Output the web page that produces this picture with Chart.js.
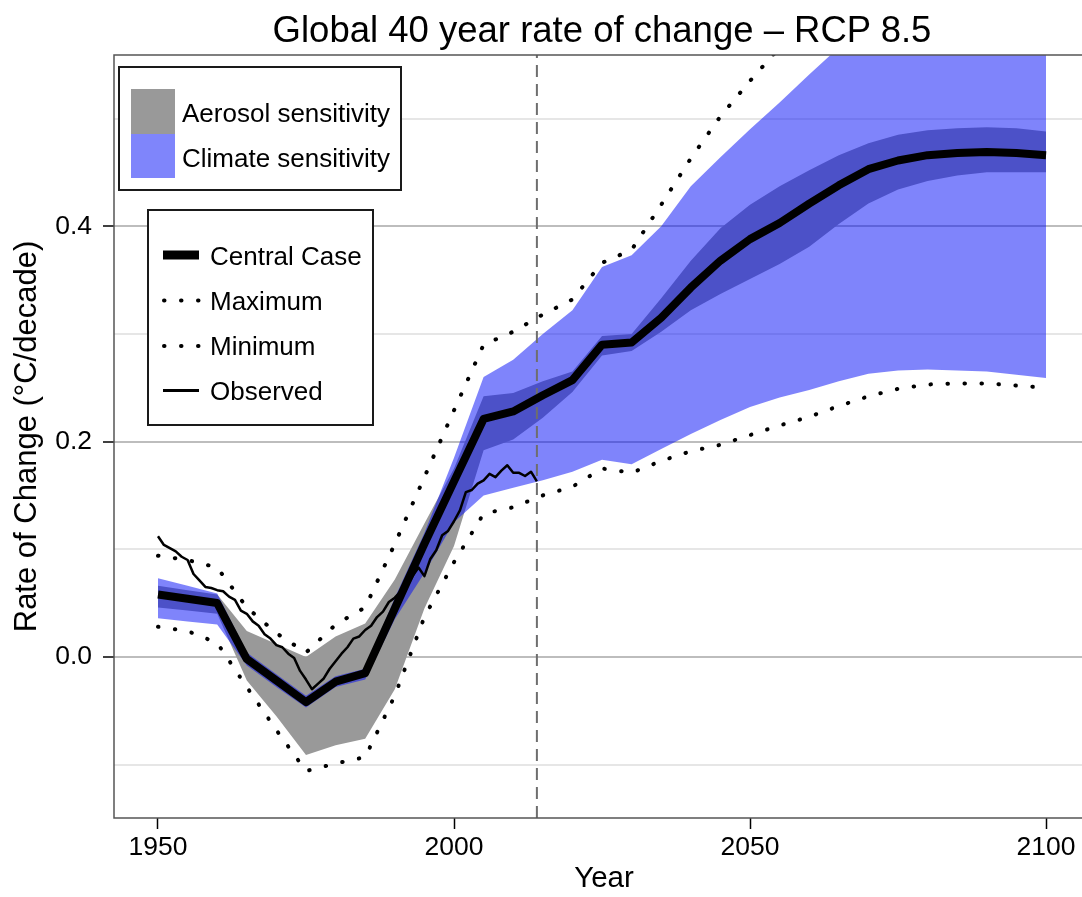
<!DOCTYPE html>
<html>
<head>
<meta charset="utf-8">
<script src="https://cdn.jsdelivr.net/npm/chart.js@4.4.0/dist/chart.umd.min.js"></script>
<style>
html,body{margin:0;padding:0;background:#fff;overflow:hidden;width:1082px;height:897px;}
#wrap{position:absolute;left:0;top:0;width:1094px;height:897px;}
.t{position:absolute;font-family:"Liberation Sans",Arial,Helvetica,sans-serif;color:#000;white-space:nowrap;line-height:1;}
#overlay{position:absolute;left:0;top:0;pointer-events:none;}
</style>
</head>
<body>
<div id="wrap"><canvas id="c" width="1094" height="897"></canvas></div>
<svg id="overlay" width="1082" height="897">
  <rect x="119" y="67" width="282" height="123" fill="#fff" stroke="#1a1a1a" stroke-width="2"/>
  <rect x="131" y="89" width="44" height="45" fill="#999999"/>
  <rect x="131" y="134" width="44" height="44" fill="#7f85fb"/>
  <rect x="148" y="210" width="225" height="215" fill="#fff" stroke="#1a1a1a" stroke-width="2"/>
  <line x1="163" y1="255" x2="199" y2="255" stroke="#000" stroke-width="9"/>
  <line x1="164" y1="300.5" x2="200" y2="300.5" stroke="#000" stroke-width="4" stroke-linecap="round" stroke-dasharray="0.5 16.5"/>
  <line x1="164" y1="346" x2="200" y2="346" stroke="#000" stroke-width="4" stroke-linecap="round" stroke-dasharray="0.5 16.5"/>
  <line x1="163" y1="390.5" x2="199" y2="390.5" stroke="#000" stroke-width="3"/>
</svg>
<div class="t" style="left:0;width:1204px;text-align:center;top:12px;font-size:36.5px;">Global 40 year rate of change – RCP 8.5</div>
<div class="t" style="left:182px;top:100px;font-size:26px;">Aerosol sensitivity</div>
<div class="t" style="left:182px;top:145px;font-size:26px;">Climate sensitivity</div>
<div class="t" style="left:210px;top:243px;font-size:26px;">Central Case</div>
<div class="t" style="left:210px;top:288px;font-size:26px;">Maximum</div>
<div class="t" style="left:210px;top:333px;font-size:26px;">Minimum</div>
<div class="t" style="left:210px;top:378px;font-size:26px;">Observed</div>
<script>
// ---- data ----
const years = [1950,1955,1960,1965,1970,1975,1980,1985,1990,1995,2000,2005,2010,2015,2020,2025,2030,2035,2040,2045,2050,2055,2060,2065,2070,2075,2080,2085,2090,2095,2100];
const centralCase = [0.058,0.054,0.050,-0.002,-0.022,-0.042,-0.023,-0.015,0.045,0.105,0.163,0.221,0.228,0.243,0.257,0.290,0.292,0.315,0.343,0.368,0.388,0.403,0.421,0.438,0.453,0.461,0.466,0.468,0.469,0.468,0.466];
const maximumCase = [0.094,0.090,0.083,0.046,0.022,0.004,0.030,0.046,0.105,0.167,0.229,0.290,0.302,0.318,0.332,0.366,0.378,0.420,0.463,0.502,0.535,0.566,null,null,null,null,null,null,null,null,null];
const minimumCase = [0.028,0.024,0.013,-0.028,-0.068,-0.106,-0.099,-0.093,-0.036,0.037,0.088,0.133,0.139,0.150,0.158,0.175,0.171,0.182,0.191,0.197,0.206,0.215,0.223,0.233,0.242,0.249,0.253,0.254,0.254,0.252,0.250];
const aerosolLow  = [0.046,0.043,0.040,-0.022,-0.055,-0.091,-0.082,-0.076,-0.030,0.045,0.103,0.192,0.202,0.222,0.246,0.280,0.284,0.302,0.322,0.337,0.351,0.365,0.381,0.402,0.421,0.434,0.442,0.447,0.450,0.450,0.450];
const aerosolHigh = [0.066,0.062,0.058,0.024,0.012,0.000,0.019,0.031,0.072,0.124,0.175,0.242,0.245,0.256,0.265,0.298,0.300,0.333,0.368,0.398,0.420,0.437,0.452,0.466,0.477,0.485,0.489,0.491,0.492,0.491,0.488];
const climateLow  = [0.036,0.033,0.030,-0.008,-0.028,-0.047,-0.028,-0.021,0.035,0.078,0.125,0.150,0.157,0.164,0.172,0.183,0.179,0.193,0.207,0.220,0.232,0.241,0.248,0.256,0.263,0.266,0.267,0.266,0.265,0.262,0.259];
const climateHigh = [0.073,0.066,0.059,0.004,-0.016,-0.036,-0.018,-0.011,0.055,0.115,0.185,0.260,0.276,0.300,0.322,0.362,0.373,0.400,0.437,0.464,0.490,0.515,0.541,0.566,0.590,0.610,0.630,0.640,0.650,0.660,0.670];
const obsYears = [1950,1951,1952,1953,1954,1955,1956,1957,1958,1959,1960,1961,1962,1963,1964,1965,1966,1967,1968,1969,1970,1971,1972,1973,1974,1975,1976,1977,1978,1979,1980,1981,1982,1983,1984,1985,1986,1987,1988,1989,1990,1991,1992,1993,1994,1995,1996,1997,1998,1999,2000,2001,2002,2003,2004,2005,2006,2007,2008,2009,2010,2011,2012,2013,2014];
const observed = [0.112,0.104,0.101,0.098,0.093,0.090,0.077,0.071,0.065,0.064,0.062,0.061,0.056,0.053,0.043,0.040,0.033,0.029,0.021,0.017,0.011,0.009,0.003,-0.001,-0.013,-0.021,-0.030,-0.025,-0.020,-0.011,-0.004,0.003,0.009,0.017,0.019,0.025,0.029,0.037,0.042,0.051,0.055,0.061,0.065,0.075,0.083,0.075,0.091,0.099,0.113,0.117,0.126,0.136,0.153,0.155,0.161,0.164,0.170,0.167,0.173,0.178,0.171,0.171,0.168,0.172,0.163];
const presentYear = 2014;
const xRange = [1942.57, 2108.1];
const yRange = [-0.1496, 0.559];
const xTickValues = [1950, 2000, 2050, 2100];
const yTickValues = [-0.1, 0.0, 0.1, 0.2, 0.3, 0.4, 0.5];
const yLabelledStep = 0.2;

// ---- helpers ----
const FONT = '"Liberation Sans", Arial, Helvetica, sans-serif';
const pts = (xs, ys) => xs.map((x, i) => ({x: x, y: ys[i]}));
const isMajor = v => Math.abs(v - Math.round(v / yLabelledStep) * yLabelledStep) < 1e-6;
const band = {borderWidth: 0, borderColor: 'transparent', pointRadius: 0, pointHoverRadius: 0};
const dotted = {borderColor: '#000', borderWidth: 4, borderDash: [0.5, 16.5], borderCapStyle: 'round', pointRadius: 0, fill: false, tension: 0};

const framePlugin = {
  id: 'frame',
  afterDraw(chart) {
    const {ctx, chartArea: a} = chart;
    ctx.save();
    ctx.strokeStyle = '#555';
    ctx.lineWidth = 1.5;
    ctx.strokeRect(a.left, a.top, a.right - a.left, a.bottom - a.top);
    ctx.restore();
  }
};

new Chart(document.getElementById('c'), {
  type: 'line',
  data: {
    datasets: [
      Object.assign({label: 'aerosol low', data: pts(years, aerosolLow), fill: false, order: 100}, band),
      Object.assign({label: 'Aerosol sensitivity', data: pts(years, aerosolHigh), fill: {target: 0}, backgroundColor: '#999999', order: 100}, band),
      Object.assign({label: 'climate low', data: pts(years, climateLow), fill: false, order: 90}, band),
      Object.assign({label: 'Climate sensitivity', data: pts(years, climateHigh), fill: {target: 2}, backgroundColor: 'rgba(0,10,248,0.5)', order: 90}, band),
      {label: 'present', data: [{x: presentYear, y: yRange[0]}, {x: presentYear, y: yRange[1]}], borderColor: '#6e6e6e', borderWidth: 2, borderDash: [12, 7], pointRadius: 0, fill: false, order: 50},
      Object.assign({label: 'Maximum', data: pts(years, maximumCase), order: 40}, dotted),
      Object.assign({label: 'Minimum', data: pts(years, minimumCase), order: 40}, dotted),
      {label: 'Observed', data: pts(obsYears, observed), borderColor: '#000', borderWidth: 2.5, pointRadius: 0, fill: false, order: 20, borderJoinStyle: 'round'},
      {label: 'Central Case', data: pts(years, centralCase), borderColor: '#000', borderWidth: 8, pointRadius: 0, fill: false, order: 10, borderJoinStyle: 'round', borderCapStyle: 'butt'}
    ]
  },
  options: {
    responsive: false,
    animation: false,
    devicePixelRatio: 1,
    layout: {padding: {top: 55, left: 0, right: 0, bottom: 0}},
    plugins: {legend: {display: false}, tooltip: {enabled: false}, title: {display: false}},
    elements: {line: {tension: 0}},
    scales: {
      x: {
        type: 'linear', min: xRange[0], max: xRange[1],
        afterBuildTicks: ax => { ax.ticks = xTickValues.map(v => ({value: v})); },
        afterFit: s => { s.height = 79; },
        grid: {drawOnChartArea: false, tickLength: 11, tickColor: '#000', tickWidth: 1.5},
        border: {display: false},
        ticks: {padding: 3, color: '#000', font: {family: FONT, size: 26.5}, maxRotation: 0, autoSkip: false, callback: v => String(v)},
        title: {display: true, text: 'Year', color: '#000', font: {family: FONT, size: 29.5}, padding: {top: 0, bottom: 0}}
      },
      y: {
        type: 'linear', min: yRange[0], max: yRange[1],
        afterBuildTicks: ax => { ax.ticks = yTickValues.map(v => ({value: v})); },
        afterFit: s => { s.width = 114; },
        grid: {
          color: c => isMajor(c.tick.value) ? '#bdbdbd' : '#e6e6e6',
          lineWidth: 2,
          tickLength: 11,
          tickWidth: 1.5,
          tickColor: c => isMajor(c.tick.value) ? '#000' : 'rgba(0,0,0,0)'
        },
        border: {display: false},
        ticks: {padding: 11, color: '#000', font: {family: FONT, size: 26.5}, callback: v => isMajor(v) ? v.toFixed(1) : ''},
        title: {display: true, text: 'Rate of Change (°C/decade)', color: '#000', font: {family: FONT, size: 31}, padding: {top: 9, bottom: 0}}
      }
    }
  },
  plugins: [framePlugin]
});
</script>
</body>
</html>
